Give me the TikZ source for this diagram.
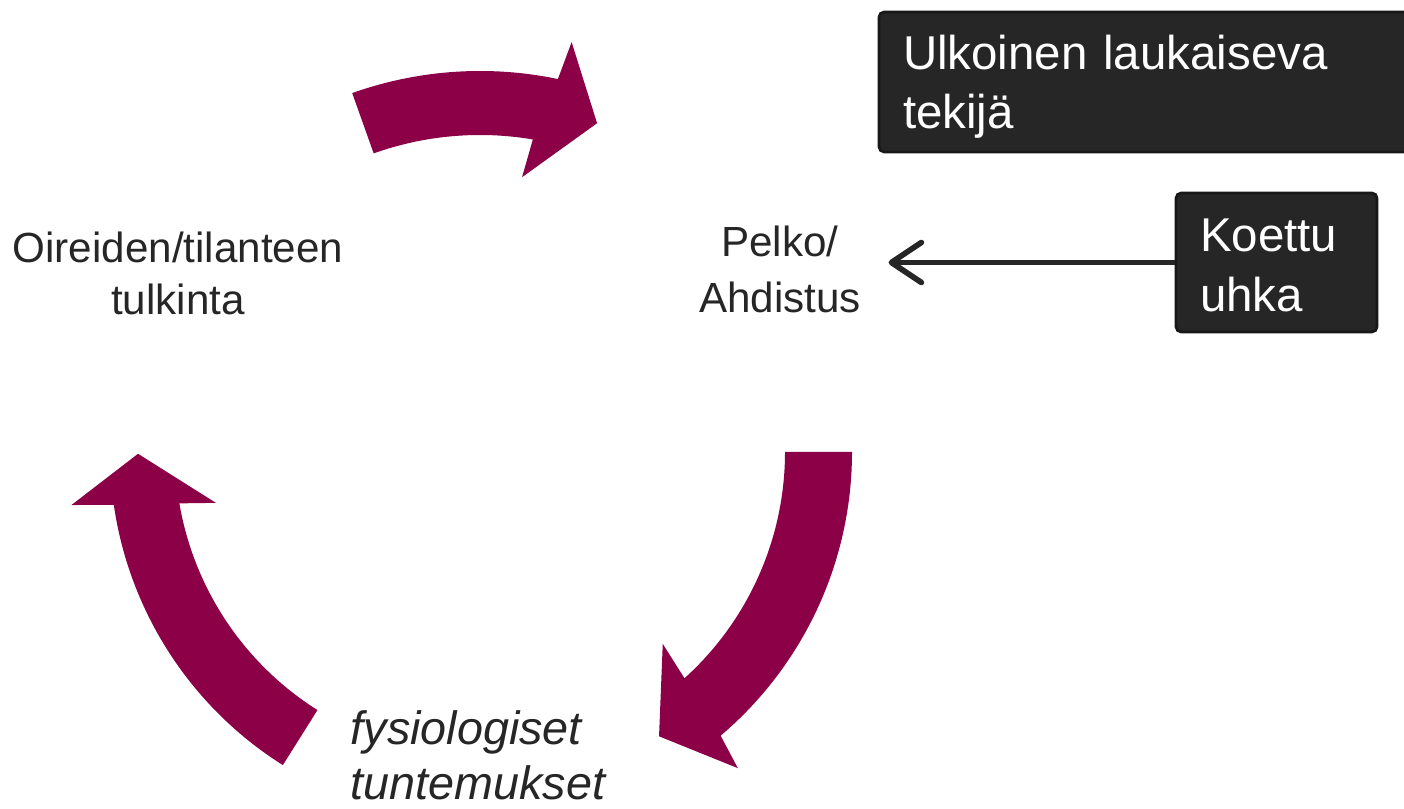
\documentclass[tikz,border=0pt]{standalone}
\usepackage{fontspec}
\setmainfont{Liberation Sans}
\usepackage{tikz}
\usetikzlibrary{shapes,arrows,arrows.meta}
\definecolor{wine}{RGB}{139,0,70}
\definecolor{boxgray}{RGB}{38,38,38}
\definecolor{boxedge}{RGB}{24,24,24}
\definecolor{txtgray}{RGB}{38,38,38}
\tikzstyle{darkbox} = [rectangle, draw=boxedge, line width=0.8pt, fill=boxgray, rounded corners=1.5pt, text=white, align=left, inner xsep=0.24cm, inner ysep=0pt, font=\fontsize{13.5}{17}\selectfont]
\tikzstyle{cyctext} = [text=txtgray, align=center, inner sep=0pt]

\begin{document}
\begin{tikzpicture}
  \useasboundingbox (0,0) rectangle (14.04,8.09);
  % the three curved arrows of the cycle
  \begin{scope}[shift={(4.80,3.57)}]
    \fill[wine] (109.6:3.81) arc[start angle=109.6, end angle=78.2, radius=3.81] -- (77.4:4.20) -- (70.4:3.49) -- (81.3:2.78) -- (80.4:3.17) arc[start angle=80.4, end angle=109.6, radius=3.17] -- cycle;
    \fill[wine] (0:3.72) arc[start angle=0, end angle=-49.7, radius=3.72] -- (-50.8:4.08) -- (-57.8:3.36) -- (-46.4:2.65) -- (-47.9:3.05) arc[start angle=-47.9, end angle=0, radius=3.05] -- cycle;
    \fill[wine] (237.8:3.70) arc[start angle=237.8, end angle=188.2, radius=3.70] -- (187.4:4.12) -- (180.3:3.42) -- (190.9:2.69) -- (189.7:3.05) arc[start angle=189.7, end angle=237.8, radius=3.05] -- cycle;
  \end{scope}
  \node[cyctext, font=\fontsize{12}{14.6}\selectfont] (tulkinta) at (1.78,5.355) {Oireiden/tilanteen\\tulkinta};
  \node[cyctext, font=\fontsize{12}{15.9}\selectfont] (pelko) at (7.80,5.40) {Pelko/\\Ahdistus};
  \node[cyctext, anchor=west, align=left, font=\fontsize{13.3}{15.6}\selectfont\itshape] (fysio) at (3.50,0.54) {fysiologiset\\tuntemukset};
  \node[darkbox, minimum width=5.41cm, minimum height=1.40cm, text width=4.93cm, text depth=0.60cm] (ulkoinen) at (11.495,7.27) {Ulkoinen laukaiseva\\tekijä};
  \node[darkbox, minimum width=2.01cm, minimum height=1.39cm, text width=1.53cm, text depth=0.54cm] (koettu) at (12.765,5.465) {Koettu\\uhka};
  \draw[txtgray, line width=1.6pt, -{Straight Barb[length=3mm, width=4mm, round]}, shorten >=0.27cm] (koettu.west) -- (koettu.west -| pelko.east);
\end{tikzpicture}
\end{document}
